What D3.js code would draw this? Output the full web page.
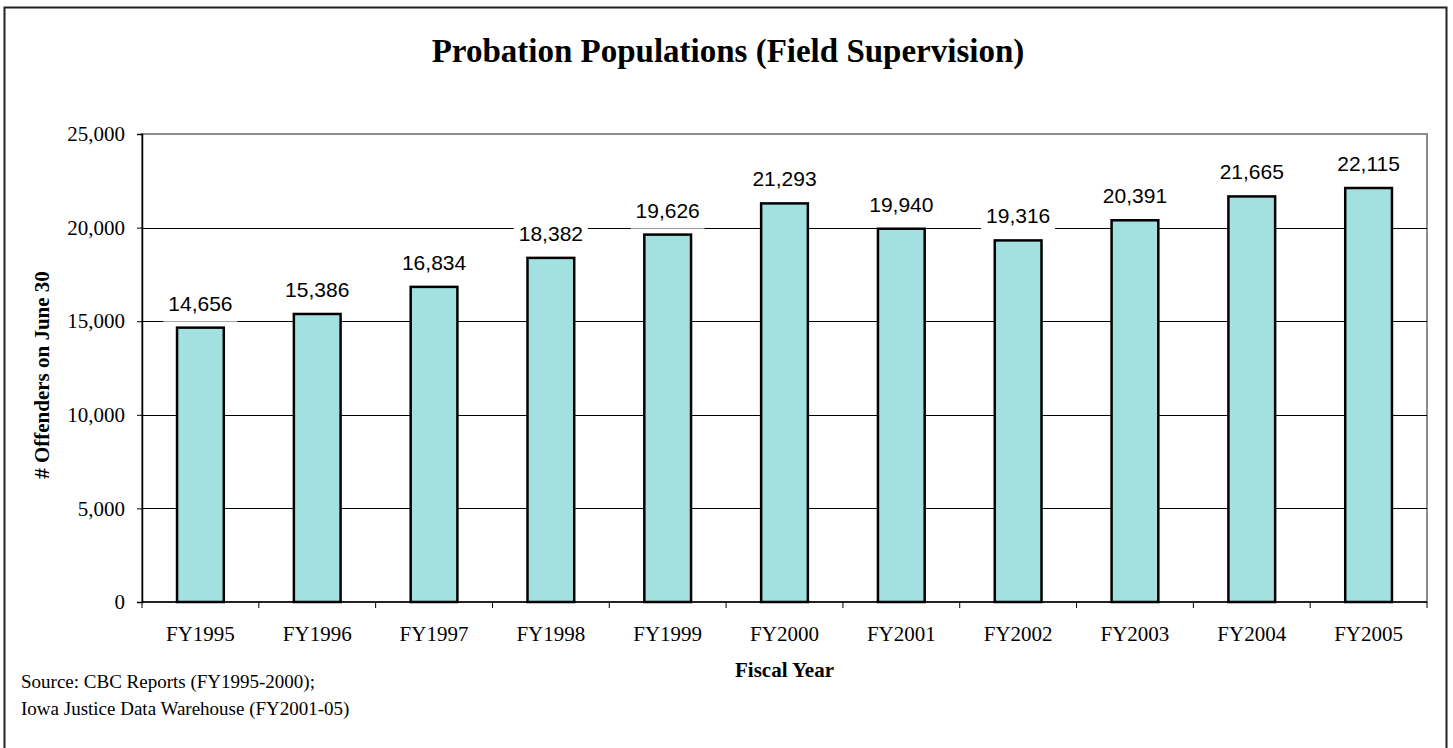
<!DOCTYPE html>
<html>
<head>
<meta charset="utf-8">
<script src="https://cdn.jsdelivr.net/npm/d3@7"></script>
<style>
  html, body { margin: 0; padding: 0; background: #fff; }
  svg { display: block; }
</style>
</head>
<body>
<svg id="chart" width="1453" height="748"></svg>
<script>
// Probation populations on June 30, by fiscal year
const years = ["FY1995", "FY1996", "FY1997", "FY1998", "FY1999", "FY2000",
               "FY2001", "FY2002", "FY2003", "FY2004", "FY2005"];
const offenders = [14656, 15386, 16834, 18382, 19626, 21293,
                   19940, 19316, 20391, 21665, 22115];
const yTicks = [0, 5000, 10000, 15000, 20000, 25000];

const titleText = "Probation Populations (Field Supervision)";
const yTitle = "# Offenders on June 30";
const xTitle = "Fiscal Year";
const sourceLines = ["Source: CBC Reports (FY1995-2000);",
                     "Iowa Justice Data Warehouse (FY2001-05)"];

const serif = "Liberation Serif, Times New Roman, serif";
const sans = "Liberation Sans, Arial, sans-serif";

const svg = d3.select("#chart");
const plot = { left: 142, right: 1427, top: 134, bottom: 602 };

// outer frame (runs past the bottom edge)
svg.append("rect")
  .attr("x", 4.5).attr("y", 7.5)
  .attr("width", 1442).attr("height", 760)
  .attr("fill", "#fff").attr("stroke", "#222").attr("stroke-width", 2);

svg.append("text")
  .attr("x", 728).attr("y", 62)
  .attr("text-anchor", "middle")
  .attr("font-family", serif)
  .attr("font-weight", "bold").attr("font-size", 33)
  .text(titleText);

const x = d3.scaleBand().domain(years)
  .range([plot.left, plot.right]).paddingInner(0.6).paddingOuter(0.3);
const y = d3.scaleLinear().domain([0, 25000]).range([plot.bottom, plot.top]);

// plot area outline (grey)
svg.append("rect")
  .attr("x", plot.left).attr("y", plot.top)
  .attr("width", plot.right - plot.left).attr("height", plot.bottom - plot.top)
  .attr("fill", "none").attr("stroke", "#8c8c8c").attr("stroke-width", 2);

// gridlines
svg.append("g").selectAll("line")
  .data(yTicks.filter(d => d > 0 && d < 25000))
  .join("line")
  .attr("x1", plot.left).attr("x2", plot.right)
  .attr("y1", d => Math.round(y(d)) + 0.5).attr("y2", d => Math.round(y(d)) + 0.5)
  .attr("stroke", "#000").attr("stroke-width", 1);

// y axis
const yAxis = svg.append("g")
  .attr("transform", `translate(${plot.left},0)`)
  .call(d3.axisLeft(y).tickValues(yTicks).tickSize(5).tickPadding(12)
    .tickFormat(d3.format(",")));
yAxis.select(".domain").attr("stroke", "#000").attr("stroke-width", 1.5);
yAxis.selectAll(".tick line").attr("stroke", "#000");
yAxis.selectAll("text")
  .attr("font-family", serif)
  .attr("font-size", 21).attr("fill", "#000");

// x axis with ticks at category boundaries
const bounds = d3.range(years.length + 1).map(i =>
  plot.left + i * (plot.right - plot.left) / years.length);
svg.append("line")
  .attr("x1", plot.left).attr("x2", plot.right)
  .attr("y1", plot.bottom).attr("y2", plot.bottom)
  .attr("stroke", "#000").attr("stroke-width", 1.5);
svg.append("g").selectAll("line").data(bounds).join("line")
  .attr("x1", d => d).attr("x2", d => d)
  .attr("y1", plot.bottom).attr("y2", plot.bottom + 6)
  .attr("stroke", "#000");
svg.append("g").selectAll("text").data(years).join("text")
  .attr("x", d => x(d) + x.bandwidth() / 2)
  .attr("y", plot.bottom + 39)
  .attr("text-anchor", "middle")
  .attr("font-family", serif)
  .attr("font-size", 21)
  .text(d => d);

// bars
svg.append("g").selectAll("rect")
  .data(years.map((yr, i) => ({ yr, v: offenders[i] })))
  .join("rect")
  .attr("x", d => x(d.yr)).attr("width", x.bandwidth())
  .attr("y", d => y(d.v)).attr("height", d => plot.bottom - y(d.v))
  .attr("fill", "#a3e0e0").attr("stroke", "#000").attr("stroke-width", 2.5);

// value labels on white boxes
const labels = svg.append("g").selectAll("g")
  .data(years.map((yr, i) => ({ yr, v: offenders[i] })))
  .join("g")
  .attr("transform", d => `translate(${x(d.yr) + x.bandwidth() / 2},${y(d.v) - 17})`);
labels.append("rect")
  .attr("x", -37).attr("y", -22).attr("width", 74).attr("height", 33)
  .attr("fill", "#fff");
labels.append("text")
  .attr("text-anchor", "middle")
  .attr("font-family", sans)
  .attr("font-size", 21)
  .text(d => d3.format(",")(d.v));

// axis titles
svg.append("text")
  .attr("transform", `translate(49,375) rotate(-90)`)
  .attr("text-anchor", "middle")
  .attr("font-family", serif)
  .attr("font-weight", "bold").attr("font-size", 21)
  .text(yTitle);
svg.append("text")
  .attr("x", (plot.left + plot.right) / 2).attr("y", 677)
  .attr("text-anchor", "middle")
  .attr("font-family", serif)
  .attr("font-weight", "bold").attr("font-size", 21)
  .text(xTitle);

// source note
svg.append("g").selectAll("text").data(sourceLines).join("text")
  .attr("x", 21).attr("y", (d, i) => 688 + i * 27)
  .attr("font-family", serif)
  .attr("font-size", 19)
  .text(d => d);
</script>
</body>
</html>
